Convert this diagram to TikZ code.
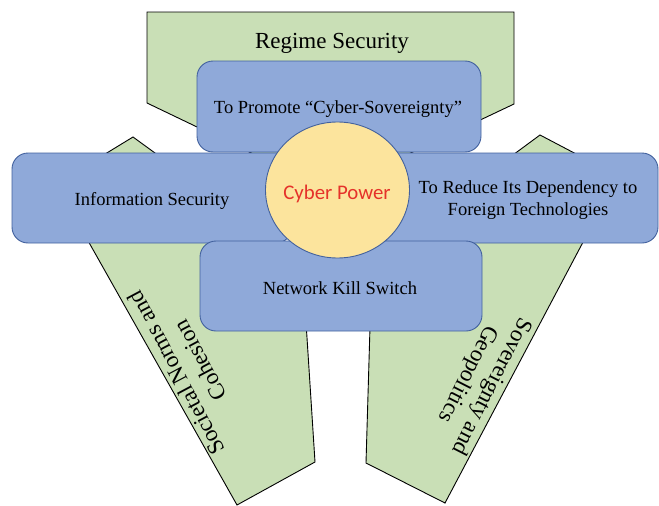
\documentclass[tikz,border=0pt]{standalone}
\usepackage{fontspec}
\setmainfont{Liberation Serif}
\newfontfamily\carlito{Carlito}
\usetikzlibrary{shapes.geometric}
\definecolor{greenfill}{HTML}{C9DFB6}
\definecolor{bluefill}{HTML}{8FA9D9}
\definecolor{blueline}{HTML}{42619E}
\definecolor{corefill}{HTML}{FCE49D}
\definecolor{corered}{HTML}{E5322A}
\begin{document}
\begin{tikzpicture}[x=1pt,y=-1pt,
  greenshape/.style={fill=greenfill, draw=black, line width=0.9pt, line join=miter},
  bluebox/.style={rectangle, rounded corners=16pt, fill=bluefill, draw=blueline, line width=0.9pt, inner sep=0pt},
  bodytext/.style={font=\fontsize{18.5}{21.5}\selectfont, text=black, align=center},
  bigtext/.style={font=\fontsize{23}{27}\selectfont, text=black, align=center},
  corenode/.style={ellipse, fill=corefill, draw=blueline, line width=0.9pt, inner sep=0pt,
    minimum width=144pt, minimum height=136pt},
  coretext/.style={text=corered, font=\carlito\fontsize{20.8}{24}\selectfont}
]
\useasboundingbox (0,0) rectangle (659,506);
\fill[white] (0,0) rectangle (659,506);

% green pentagon-like shapes
\draw[greenshape] (147,12) -- (514,12) -- (514,104) -- (330.5,191) -- (147,103) -- cycle;
\draw[greenshape] (133,137) -- (56,184) -- (237,505) -- (315,462) -- (302,260) -- cycle;
\draw[greenshape] (540,135) -- (618,176) -- (445,503) -- (366,463) -- (372,259) -- cycle;

\node[bigtext] (regime) at (332,43) {Regime Security};
\node[bigtext, rotate=118] (societal) at (188,367) {Societal Norms and\\Cohesion};
\node[bigtext, rotate=-117] (sovereignty) at (479.5,380) {Sovereignty and\\Geopolitics};

% blue boxes
\node[bluebox, minimum width=284pt, minimum height=91pt] (promote) at (339,106.5) {};
\node[bodytext] (promotetext) at (338,109) {To Promote “Cyber-Sovereignty”};
\node[bluebox, minimum width=280pt, minimum height=90pt] (infosec) at (152,198) {};
\node[bodytext] (infotext) at (152,200.5) {Information Security};
\node[bluebox, minimum width=280pt, minimum height=90pt] (reduce) at (518,198) {};
\node[bodytext] (reducetext) at (528,200) {To Reduce Its Dependency to\\Foreign Technologies};
\node[bluebox, minimum width=282pt, minimum height=90pt] (killswitch) at (341,286) {};
\node[bodytext] (killtext) at (340,288) {Network Kill Switch};

% centre
\node[corenode] (core) at (337.5,190) {};
\node[coretext] (coretxt) at (337,194) {Cyber Power};
\end{tikzpicture}
\end{document}
